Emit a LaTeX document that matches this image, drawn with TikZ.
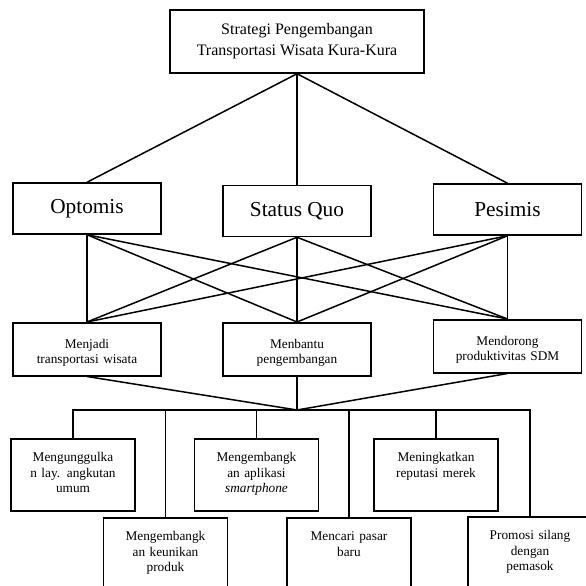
\documentclass[tikz,border=0pt]{standalone}
\usepackage{fontspec}
\setmainfont{Liberation Serif}
\usetikzlibrary{positioning}

\begin{document}
\begin{tikzpicture}[
            x=1pt, y=-1pt,
            line width=1.5pt,
            rootbox/.style={rectangle, draw, minimum width=254pt, minimum height=63pt, inner sep=0pt, align=center, font={\fontsize{16}{21}\selectfont}},
            scenbox/.style={rectangle, draw, minimum width=148pt, minimum height=51pt, inner sep=0pt, font={\fontsize{21.3}{25}\selectfont}},
            goalbox/.style={rectangle, draw, anchor=north, text width=142pt, align=center, inner sep=3pt, text height=23pt, text depth=24pt, font={\fontsize{13.3}{15}\selectfont}},
            actbox/.style={rectangle, draw, anchor=north, text width=118pt, align=center, inner sep=3pt, text height=20pt, text depth=46pt, font={\fontsize{13.3}{15.5}\selectfont}},
            link/.style={line width=1.5pt}
        ]
            \useasboundingbox (0,0) rectangle (586,586);
            \clip (0,0) rectangle (586,586);

            % Nodes
            \node[rootbox] (root) at (297,41.5) {Strategi Pengembangan\\Transportasi Wisata Kura-Kura};

            \node[scenbox] (opt) at (87,208.5) {Optomis};
            \node[scenbox] (sq) at (297,211) {Status Quo};
            \node[scenbox] (pes) at (507.5,209.5) {Pesimis};

            \node[goalbox] (mj) at (87,322) {Menjadi\\transportasi wisata};
            \node[goalbox] (mb) at (297,322) {Menbantu\\pengembangan};
            \node[goalbox] (md) at (507.5,319) {Mendorong\\produktivitas SDM};

            \coordinate (hub) at (297,410);

            \node[actbox] (act1) at (73,438) {Mengunggulka\\n lay. angkutan\\umum};
            \node[actbox] (act2) at (165.5,517) {Mengembangk\\an keunikan\\produk};
            \node[actbox] (act3) at (256.5,438) {Mengembangk\\an aplikasi\\\textit{smartphone}};
            \node[actbox] (act4) at (349,517) {Mencari pasar\\baru};
            \node[actbox] (act5) at (436,438) {Meningkatkan\\reputasi merek};
            \node[actbox] (act6) at (530,516) {Promosi silang\\dengan\\pemasok};

            % Lines
            \draw[link] (root.south) -- (opt.north);
            \draw[link] (root.south) -- (sq.north);
            \draw[link] (root.south) -- (pes.north);

            \draw[link] (opt.south) -- (mj.north);
            \draw[link] (opt.south) -- (mb.north);
            \draw[link] (opt.south) -- (md.north);
            \draw[link] (sq.south) -- (mj.north);
            \draw[link] (sq.south) -- (mb.north);
            \draw[link] (sq.south) -- (md.north);
            \draw[link] (pes.south) -- (mj.north);
            \draw[link] (pes.south) -- (mb.north);
            \draw[link] (pes.south) -- (md.north);

            \draw[link] (mj.south) -- (hub);
            \draw[link] (mb.south) -- (hub);
            \draw[link] (md.south) -- (hub);

            \draw[link] (act1.north) |- (hub);
            \draw[link] (act2.north) |- (hub);
            \draw[link] (act3.north) |- (hub);
            \draw[link] (act4.north) |- (hub);
            \draw[link] (act5.north) |- (hub);
            \draw[link] (act6.north) |- (hub);
        \end{tikzpicture}
\end{document}
